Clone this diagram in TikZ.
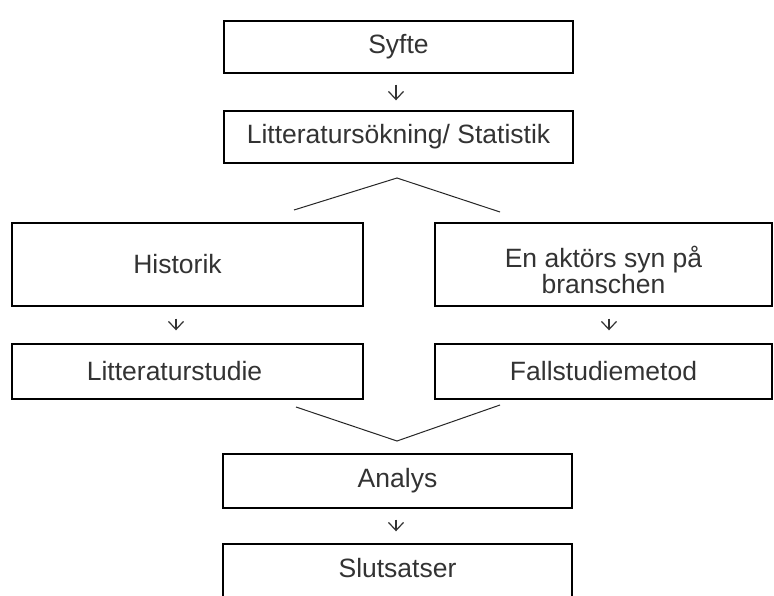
\documentclass[tikz,border=0pt]{standalone}
\usepackage{fontspec}
\setmainfont{Liberation Sans}
\usetikzlibrary{arrows.meta}
\begin{document}
\begin{tikzpicture}[x=1pt,y=-1pt,
  box/.style={draw=black,line width=1.4pt,inner sep=0pt,text=black!80,
    font=\fontsize{26.5}{22}\selectfont,align=center},
  arr/.style={-{Straight Barb[length=8pt,width=15pt]},line width=1.2pt,black!80},
  fork/.style={line width=1pt,black!85}]
\useasboundingbox (0,0) rectangle (774,596);
\fill[white] (0,0) rectangle (774,596);
\node[box,minimum width=349pt,minimum height=52pt] (syfte) at (398.5,47) {Syfte};
\node[box,minimum width=349pt,minimum height=52pt] (lit) at (398.5,137) {Litteratursökning/ Statistik};
\node[box,minimum width=351pt,minimum height=83pt] (hist) at (187.5,264.5) {Historik\hspace*{20pt}};
\node[box,minimum width=351pt,minimum height=55pt] (lstud) at (187.5,371.5) {Litteraturstudie\hspace*{26pt}};
\node[box,minimum width=337pt,minimum height=83pt] (akt) at (603.5,264.5) {};
\node[text=black!80,font=\fontsize{26.5}{22}\selectfont,align=center,inner sep=0pt] (akttext) at (603.5,270) {En aktörs syn på\\branschen};
\node[box,minimum width=337pt,minimum height=55pt] (fall) at (603.5,371.5) {Fallstudiemetod};
\node[box,minimum width=349pt,minimum height=54pt] (analys) at (397.5,481) {Analys};
\node[box,minimum width=349pt,minimum height=80pt] (slut) at (397.5,584) {};
\node[text=black!80,font=\fontsize{26.5}{22}\selectfont] (sluttext) at (397.5,568) {Slutsatser};
\draw[arr,shorten <=11pt,shorten >=10pt] (syfte.south -| 396,0) -- (lit.north -| 396,0);
\draw[arr,shorten <=12pt,shorten >=13pt] (hist.south -| 176,0) -- (lstud.north -| 176,0);
\draw[arr,shorten <=12pt,shorten >=13pt] (akt.south -| 609,0) -- (fall.north -| 609,0);
\draw[arr,shorten <=11pt,shorten >=12pt] (analys.south -| 396,0) -- (slut.north -| 396,0);
\coordinate (tl) at (294,210);
\coordinate (tp) at (397,178);
\coordinate (tr) at (500,212);
\draw[fork] (tl) -- (tp) -- (tr);
\coordinate (bl) at (296,407);
\coordinate (bp) at (397,441);
\coordinate (br) at (500,405);
\draw[fork] (bl) -- (bp) -- (br);
\end{tikzpicture}
\end{document}
